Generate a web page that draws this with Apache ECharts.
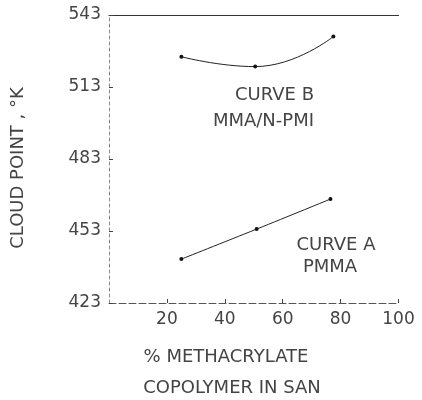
<!DOCTYPE html>
<html><head><meta charset="utf-8">
<script src="https://cdn.jsdelivr.net/npm/echarts@6/dist/echarts.min.js"></script>
<style>html,body{margin:0;padding:0;background:#fff}#c{width:422px;height:400px}</style>
</head><body><div id="c"></div>
<script>
// Curve A: PMMA
const xA = [25, 51, 76.5];
const yA = [441.3, 453.8, 466.3];
// Curve B: MMA/N-PMI
const xB = [25, 50.5, 77.5];
const yB = [525.6, 521.5, 534.0];
const yTicks = [423, 453, 483, 513, 543];
const xTicks = [20, 40, 60, 80, 100];

const font = 'DejaVu Sans';
const txtColor = '#444';
const chart = echarts.init(document.getElementById('c'), null, {renderer: 'canvas'});
const pairs = (xs, ys) => xs.map((x, i) => [x, ys[i]]);
chart.setOption({
  animation: false,
  backgroundColor: '#fff',
  grid: {left: 109, right: 23.5, top: 15, bottom: 97},
  xAxis: [{
    type: 'value', min: 0, max: 100, position: 'bottom',
    axisLine: {show: true, lineStyle: {color: '#555', width: 1, type: [7, 3]}},
    axisTick: {show: true, inside: true, length: 4, customValues: xTicks, lineStyle: {color: '#444'}},
    axisLabel: {customValues: xTicks, margin: 8, fontFamily: font, fontSize: 17, color: txtColor},
    splitLine: {show: false}
  }, {
    type: 'value', min: 0, max: 100, position: 'top',
    axisLine: {show: true, lineStyle: {color: '#333', width: 1.2}},
    axisTick: {show: false}, axisLabel: {show: false}, splitLine: {show: false}
  }],
  yAxis: {
    type: 'value', min: 423, max: 543,
    axisLine: {show: true, lineStyle: {color: '#888', width: 1, type: [3, 3]}},
    axisTick: {show: true, inside: true, length: 4, customValues: yTicks, lineStyle: {color: '#444'}},
    axisLabel: {customValues: yTicks, margin: 8, fontFamily: font, fontSize: 17, color: txtColor},
    splitLine: {show: false}
  },
  series: [{
    name: 'PMMA', type: 'line', smooth: 0.4,
    data: pairs(xA, yA),
    symbol: 'circle', symbolSize: 4,
    itemStyle: {color: '#111'},
    lineStyle: {color: '#222', width: 1}
  }, {
    name: 'MMA/N-PMI', type: 'line', smooth: 0.5,
    data: pairs(xB, yB),
    symbol: 'circle', symbolSize: 4,
    itemStyle: {color: '#111'},
    lineStyle: {color: '#222', width: 1}
  }],
  graphic: [
    {type: 'text', x: 18, y: 168, rotation: Math.PI / 2,
     style: {text: 'CLOUD POINT , °K', font: '18px ' + font, fill: txtColor, align: 'center', verticalAlign: 'middle'}},
    {type: 'text', x: 226, y: 357,
     style: {text: '% METHACRYLATE', font: '18px ' + font, fill: txtColor, align: 'center', verticalAlign: 'middle'}},
    {type: 'text', x: 232, y: 388,
     style: {text: 'COPOLYMER IN SAN', font: '18px ' + font, fill: txtColor, align: 'center', verticalAlign: 'middle'}},
    {type: 'text', x: 314, y: 95,
     style: {text: 'CURVE B', font: '18px ' + font, fill: txtColor, align: 'right', verticalAlign: 'middle'}},
    {type: 'text', x: 314, y: 121,
     style: {text: 'MMA/N-PMI', font: '18px ' + font, fill: txtColor, align: 'right', verticalAlign: 'middle'}},
    {type: 'text', x: 336, y: 245,
     style: {text: 'CURVE A', font: '18px ' + font, fill: txtColor, align: 'center', verticalAlign: 'middle'}},
    {type: 'text', x: 330, y: 267,
     style: {text: 'PMMA', font: '18px ' + font, fill: txtColor, align: 'center', verticalAlign: 'middle'}}
  ]
});
</script></body></html>
